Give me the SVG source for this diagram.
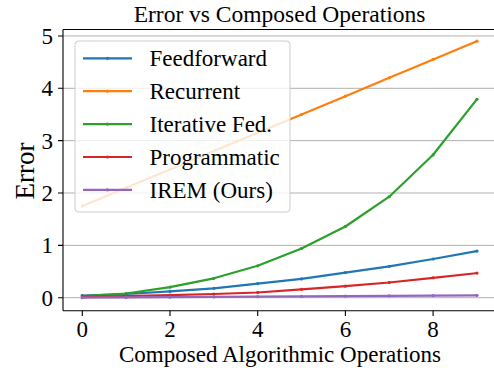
<svg xmlns="http://www.w3.org/2000/svg" width="494" height="368" viewBox="0 0 494 368">
<style>
.t{font-family:"Liberation Serif","Times New Roman",serif;fill:#000}
.tick{font-size:23px}
.lab{font-size:23px}
.grid{stroke:#b0b0b0;stroke-width:1}
.spine{stroke:#000;stroke-width:1.1;fill:none}
.series{fill:none;stroke-width:2.2;stroke-linejoin:round;stroke-linecap:square}
.leg{font-size:23px}
</style>
<defs>
<marker id="mb" viewBox="-2 -2 4 4" markerWidth="4" markerHeight="4" markerUnits="userSpaceOnUse"><circle r="1.6" fill="#1f77b4"/></marker>
<marker id="mo" viewBox="-2 -2 4 4" markerWidth="4" markerHeight="4" markerUnits="userSpaceOnUse"><circle r="1.6" fill="#ff7f0e"/></marker>
<marker id="mg" viewBox="-2 -2 4 4" markerWidth="4" markerHeight="4" markerUnits="userSpaceOnUse"><circle r="1.6" fill="#2ca02c"/></marker>
<marker id="mr" viewBox="-2 -2 4 4" markerWidth="4" markerHeight="4" markerUnits="userSpaceOnUse"><circle r="1.6" fill="#d62728"/></marker>
<marker id="mp" viewBox="-2 -2 4 4" markerWidth="4" markerHeight="4" markerUnits="userSpaceOnUse"><circle r="1.6" fill="#9467bd"/></marker>
</defs>
<rect width="494" height="368" fill="#fff"/>
<g id="grid">
<line class="grid" x1="63" y1="297.7" x2="494" y2="297.7"/>
<line class="grid" x1="63" y1="245.35" x2="494" y2="245.35"/>
<line class="grid" x1="63" y1="193" x2="494" y2="193"/>
<line class="grid" x1="63" y1="140.65" x2="494" y2="140.65"/>
<line class="grid" x1="63" y1="88.3" x2="494" y2="88.3"/>
<line class="grid" x1="63" y1="35.95" x2="494" y2="35.95"/>
</g>
<g id="connectors">
<polyline class="series" stroke="#1f77b4" marker-start="url(#mb)" marker-mid="url(#mb)" marker-end="url(#mb)" points="82.3,295.6 126.15,294.0 170.0,291.4 213.85,288.3 257.7,283.6 301.55,278.9 345.4,272.6 389.25,266.3 433.1,259.0 476.95,251.1"/>
<polyline class="series" stroke="#ff7f0e" marker-start="url(#mo)" marker-mid="url(#mo)" marker-end="url(#mo)" points="82.3,206.1 126.15,187.8 170.0,169.4 213.85,151.1 257.7,132.8 301.55,114.5 345.4,96.2 389.25,77.8 433.1,59.5 476.95,41.2"/>
<polyline class="series" stroke="#2ca02c" marker-start="url(#mg)" marker-mid="url(#mg)" marker-end="url(#mg)" points="82.3,296.1 126.15,293.5 170.0,287.2 213.85,278.3 257.7,265.8 301.55,248.5 345.4,226.5 389.25,196.7 433.1,154.8 476.95,99.3"/>
<polyline class="series" stroke="#d62728" marker-start="url(#mr)" marker-mid="url(#mr)" marker-end="url(#mr)" points="82.3,296.7 126.15,296.1 170.0,295.1 213.85,294.0 257.7,292.5 301.55,289.3 345.4,286.2 389.25,282.5 433.1,277.8 476.95,273.1"/>
<polyline class="series" stroke="#9467bd" marker-start="url(#mp)" marker-mid="url(#mp)" marker-end="url(#mp)" points="82.3,297.7 126.15,297.4 170.0,297.2 213.85,296.9 257.7,296.7 301.55,296.4 345.4,296.1 389.25,295.9 433.1,295.6 476.95,295.3"/>
</g>
<g id="axes">
<path class="spine" d="M63,29.5 V310.8 M63,310.8 H494 M63,29.5 H494"/>
<path class="spine" d="M58,297.7 H63 M58,245.35 H63 M58,193 H63 M58,140.65 H63 M58,88.3 H63 M58,35.95 H63"/>
<path class="spine" d="M82.3,310.8 V316 M170,310.8 V316 M257.7,310.8 V316 M345.4,310.8 V316 M433.1,310.8 V316"/>
<g class="t tick" font-family="Liberation Serif, serif" text-anchor="end">
<text x="53" y="305.6">0</text>
<text x="53" y="253.3">1</text>
<text x="53" y="200.9">2</text>
<text x="53" y="148.6">3</text>
<text x="53" y="96.2">4</text>
<text x="53" y="43.9">5</text>
</g>
<g class="t tick" font-family="Liberation Serif, serif" text-anchor="middle">
<text x="82.3" y="337">0</text>
<text x="170" y="337">2</text>
<text x="257.7" y="337">4</text>
<text x="345.4" y="337">6</text>
<text x="433.1" y="337">8</text>
</g>
<text class="t lab" font-family="Liberation Serif, serif" x="280" y="362" text-anchor="middle">Composed Algorithmic Operations</text>
<text class="t lab" font-family="Liberation Serif, serif" x="33.5" y="171" text-anchor="middle" transform="rotate(-90 33.5 171)" style="font-size:27px">Error</text>
<text class="t lab" font-family="Liberation Serif, serif" x="279.5" y="22" text-anchor="middle" style="font-size:23.5px">Error vs Composed Operations</text>
</g>
<g id="legend">
<rect x="75" y="41" width="215" height="171" rx="3.5" fill="#fff" fill-opacity="0.8" stroke="#cccccc" stroke-width="1"/>
<g id="leg-feedforward">
<line x1="83" y1="58.3" x2="132" y2="58.3" stroke="#1f77b4" stroke-width="2.2"/>
<circle cx="107.5" cy="58.3" r="1.6" fill="#1f77b4"/>
<text class="t leg" font-family="Liberation Serif, serif" x="149.5" y="66.3">Feedforward</text>
</g>
<g id="leg-recurrent">
<line x1="83" y1="91.2" x2="132" y2="91.2" stroke="#ff7f0e" stroke-width="2.2"/>
<circle cx="107.5" cy="91.2" r="1.6" fill="#ff7f0e"/>
<text class="t leg" font-family="Liberation Serif, serif" x="149.5" y="99.2">Recurrent</text>
</g>
<g id="leg-iterative">
<line x1="83" y1="124.1" x2="132" y2="124.1" stroke="#2ca02c" stroke-width="2.2"/>
<circle cx="107.5" cy="124.1" r="1.6" fill="#2ca02c"/>
<text class="t leg" font-family="Liberation Serif, serif" x="149.5" y="132.1">Iterative Fed.</text>
</g>
<g id="leg-programmatic">
<line x1="83" y1="157" x2="132" y2="157" stroke="#d62728" stroke-width="2.2"/>
<circle cx="107.5" cy="157" r="1.6" fill="#d62728"/>
<text class="t leg" font-family="Liberation Serif, serif" x="149.5" y="165">Programmatic</text>
</g>
<g id="leg-irem">
<line x1="83" y1="189.9" x2="132" y2="189.9" stroke="#9467bd" stroke-width="2.2"/>
<circle cx="107.5" cy="189.9" r="1.6" fill="#9467bd"/>
<text class="t leg" font-family="Liberation Serif, serif" x="149.5" y="197.9">IREM (Ours)</text>
</g>
</g>
</svg>
